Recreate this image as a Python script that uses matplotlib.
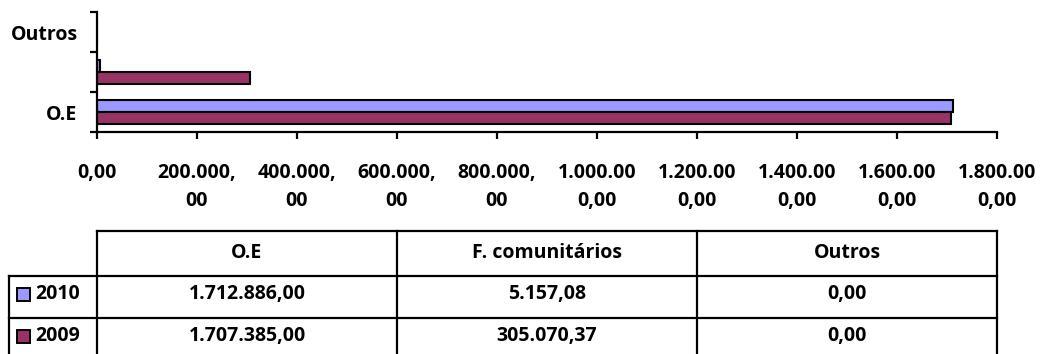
import numpy as np
import matplotlib
matplotlib.use("Agg")
import matplotlib.pyplot as plt
from matplotlib.patches import Rectangle
from matplotlib.lines import Line2D

plt.rcParams['font.family'] = ['Open Sans', 'DejaVu Sans']
plt.rcParams['font.weight'] = 'bold'

categories = ['O.E', 'F. comunitários', 'Outros']
years = ['2010', '2009']
values_2010 = [1712886.00, 5157.08, 0.00]
values_2009 = [1707385.00, 305070.37, 0.00]
colors = {'2010': '#9999FF', '2009': '#993366'}
xticks = np.arange(0, 1800001, 200000)

W, H = 1042, 354
FS = 14


def fmt_pt(v):
    s = f"{v:,.2f}"
    return s.replace(',', 'X').replace('.', ',').replace('X', '.')


def wrap8(s):
    # excel wraps the long tick labels after 8 characters
    return s if len(s) <= 8 else s[:8] + '\n' + s[8:]


def fx(x):
    return x / W


def fy(y):
    return 1 - y / H


fig = plt.figure(figsize=(W / 100, H / 100), dpi=100)
ax = fig.add_axes([fx(97), fy(132), 900 / W, 120 / H])

y = np.arange(len(categories))
h = 0.29
off = 0.15
ax.barh(y + off, values_2010, height=h, color=colors['2010'], edgecolor='black', linewidth=1.5)
ax.barh(y - off, values_2009, height=h, color=colors['2009'], edgecolor='black', linewidth=1.5)

ax.set_xlim(0, 1800000)
ax.set_ylim(-0.5, 2.5)
for s in ['top', 'right']:
    ax.spines[s].set_visible(False)
for s in ['left', 'bottom']:
    ax.spines[s].set_linewidth(1.6)

ax.set_xticks(xticks)
ax.set_xticklabels([wrap8(fmt_pt(v)) for v in xticks], fontsize=FS, fontweight='bold',
                   linespacing=1.55)
ax.tick_params(axis='x', direction='out', length=5, width=1.6, pad=17)

# category boundaries get the tick marks, only every other category is labelled
ax.set_yticks(np.arange(-0.5, 2.6, 1.0))
ax.set_yticklabels([])
ax.tick_params(axis='y', which='major', direction='out', length=5, width=1.6)
ax.set_yticks([0, 2], minor=True)
ax.set_yticklabels([categories[0], categories[2]], minor=True, fontsize=FS, fontweight='bold')
ax.tick_params(axis='y', which='minor', length=0, pad=14)

# data table under the chart
col_x = [97, 397, 697, 997]
row_y = [231, 276, 318, 360]
lw = 1.6
tr = fig.transFigure


def line(x0, y0, x1, y1):
    fig.add_artist(Line2D([fx(x0), fx(x1)], [fy(y0), fy(y1)], transform=tr,
                          color='black', linewidth=lw, solid_capstyle='projecting'))


line(97, 231, 997, 231)
for yy in row_y[1:]:
    line(9, yy, 997, yy)
for xx in col_x:
    line(xx, 231, xx, 360)
line(9, 276, 9, 360)

for j, cat in enumerate(categories):
    cx = (col_x[j] + col_x[j + 1]) / 2
    fig.text(fx(cx), fy(253), cat, ha='center', va='center',
             fontsize=FS, fontweight='bold')

rows = {'2010': values_2010, '2009': values_2009}
row_cy = {'2010': 294, '2009': 336}
for yr in years:
    cy = row_cy[yr]
    fig.add_artist(Rectangle((fx(17), fy(cy + 6.5)), 13 / W, 13 / H, transform=tr,
                             facecolor=colors[yr], edgecolor='black', linewidth=1.4))
    fig.text(fx(35), fy(cy), yr, ha='left', va='center', fontsize=FS, fontweight='bold')
    for j, v in enumerate(rows[yr]):
        cx = (col_x[j] + col_x[j + 1]) / 2
        fig.text(fx(cx), fy(cy), fmt_pt(v), ha='center', va='center',
                 fontsize=FS, fontweight='bold')

fig.savefig('out.png', dpi=100)
